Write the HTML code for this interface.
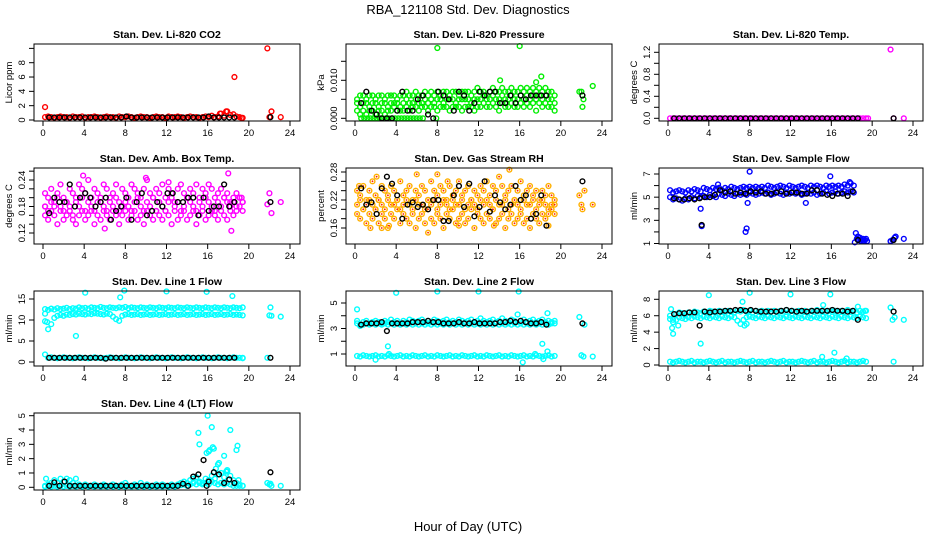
<!DOCTYPE html>
<html><head><meta charset="utf-8"><style>
html,body{margin:0;padding:0;background:#fff;}
svg{display:block;font-family:"Liberation Sans",sans-serif;}
</style></head><body>
<svg id="chart" width="936" height="540" viewBox="0 0 936 540">
<text x="468" y="14" text-anchor="middle" font-size="13">RBA_121108  Std. Dev. Diagnostics</text>
<text x="468" y="531" text-anchor="middle" font-size="13">Hour of Day (UTC)</text>
</svg>
<script>
const hourTicks = [0,4,8,12,16,20,24];
const blackHours = [0.6,1.1,1.6,2.1,2.6,3.1,3.6,4.1,4.6,5.1,5.6,6.1,6.6,7.1,7.6,8.1,8.6,9.1,9.6,10.1,10.6,11.1,11.6,12.1,12.6,13.1,13.6,14.1,14.6,15.1,15.6,16.1,16.6,17.1,17.6,18.1,18.6];
const hourGrid = [];
for (let i = 0; i < 65; i++) hourGrid.push(Math.round((0.2 + 0.3 * i) * 10) / 10);

// Panel 1 CO2
const co2Red = [0.4,0.5,0.4,0.3,0.4,0.5,0.4,0.4,0.3,0.5,0.4,0.4,0.5,0.3,0.4,0.4,0.5,0.4,0.3,0.4,0.5,0.4,0.4,0.3,0.5,0.4,0.4,0.5,0.4,0.3,0.4,0.5,0.4,0.4,0.3,0.4,0.5,0.4,0.4,0.3,0.5,0.4,0.4,0.5,0.4,0.3,0.4,0.5,0.4,0.4,0.3,0.4,0.5,0.4,0.6,0.4,0.5,0.9,0.6,1.2,0.7,0.8,0.5,0.4,0.3];
const co2ExtraX = [0.2,18.6,21.8,22.2,23.1,22.0,17.8,17.2,19.3];
const co2ExtraY = [1.8,6.0,10.0,1.2,0.4,0.4,1.2,0.9,0.3];
const co2Black = [0.35,0.35,0.35,0.35,0.35,0.35,0.35,0.35,0.35,0.35,0.35,0.35,0.35,0.35,0.35,0.5,0.35,0.35,0.35,0.35,0.35,0.35,0.35,0.35,0.35,0.35,0.35,0.35,0.35,0.35,0.35,0.5,0.35,0.35,0.35,0.35,0.35];
// Panel 2 pressure
const pUpper = [0.005,0.006,0.006,0.005,0.006,0.006,0.005,0.006,0.006,0.005,0.006,0.006,0.006,0.005,0.006,0.006,0.007,0.006,0.006,0.007,0.006,0.006,0.007,0.006,0.007,0.006,0.007,0.006,0.007,0.007,0.006,0.007,0.007,0.006,0.007,0.007,0.007,0.006,0.007,0.008,0.007,0.007,0.006,0.007,0.008,0.007,0.007,0.008,0.007,0.007,0.008,0.007,0.007,0.008,0.007,0.008,0.007,0.008,0.007,0.008,0.007,0.008,0.007,0.007,0.006];
const pMid = [0.004,0.003,0.004,0.004,0.003,0.004,0.004,0.003,0.004,0.004,0.003,0.004,0.004,0.004,0.003,0.004,0.005,0.004,0.004,0.005,0.004,0.004,0.005,0.004,0.005,0.004,0.005,0.005,0.004,0.005,0.005,0.005,0.004,0.005,0.005,0.005,0.005,0.004,0.005,0.005,0.005,0.006,0.005,0.005,0.006,0.005,0.005,0.006,0.005,0.005,0.006,0.005,0.005,0.006,0.005,0.006,0.005,0.006,0.005,0.006,0.005,0.006,0.005,0.005,0.004];
const pLow = [0.002,0.001,0.002,0.001,0.002,0.002,0.001,0.002,0.002,0.001,0.002,0.002,0.003,0.002,0.002,0.002,0.003,0.002,0.003,0.003,0.002,0.003,0.003,0.002,0.003,0.003,0.002,0.003,0.003,0.003,0.002,0.003,0.003,0.003,0.002,0.003,0.003,0.003,0.002,0.003,0.003,0.004,0.003,0.003,0.004,0.003,0.002,0.004,0.003,0.003,0.004,0.003,0.003,0.004,0.003,0.004,0.003,0.004,0.002,0.004,0.003,0.004,0.003,0.003,0.002];
const pZeroX = [0.6,0.9,1.2,1.5,1.8,2.1,2.4,2.7,3.0,3.3,3.6,3.9,4.2,4.5,4.8,5.1,5.4,5.7,6.0,6.3,6.6];
const pZeroY = [0,0,0,0,0,0,0,0,0,0,0,0,0,0,0,0,0,0,0,0,0];
const pExtraX = [8.0,16.0,23.1,21.8,22.0,22.2,22.1,14.1,18.1,17.6,7.9];
const pExtraY = [0.0185,0.019,0.0085,0.007,0.007,0.005,0.003,0.010,0.011,0.0095,0.0];
const pBlack = [0.004,0.007,0.002,0.001,0.000,0.000,0.000,0.002,0.007,0.002,0.002,0.005,0.006,0.001,0.000,0.007,0.006,0.005,0.002,0.007,0.006,0.002,0.004,0.007,0.006,0.007,0.007,0.004,0.004,0.006,0.004,0.006,0.005,0.006,0.006,0.006,0.006];
// Panel 3 temp
const tMag = [0,0,0,0,0,0,0,0,0,0,0,0,0,0,0,0,0,0,0,0,0,0,0,0,0,0,0,0,0,0,0,0,0,0,0,0,0,0,0,0,0,0,0,0,0,0,0,0,0,0,0,0,0,0,0,0,0,0,0,0,0,0,0,0,0];
const tExtraX = [21.8,23.1,22.1,19.6];
const tExtraY = [1.25,0,0,0];
const tBlack = [0,0,0,0,0,0,0,0,0,0,0,0,0,0,0,0,0,0,0,0,0,0,0,0,0,0,0,0,0,0,0,0,0,0,0,0,0];
// Panel 4 amb box temp
const aA = [0.21,0.20,0.22,0.19,0.21,0.23,0.20,0.19,0.22,0.21,0.20,0.23,0.22,0.21,0.24,0.20,0.22,0.21,0.19,0.23,0.22,0.20,0.21,0.23,0.19,0.22,0.21,0.20,0.23,0.22,0.21,0.20,0.22,0.24,0.21,0.20,0.22,0.21,0.23,0.20,0.22,0.21,0.19,0.22,0.23,0.21,0.20,0.22,0.21,0.23,0.20,0.22,0.21,0.23,0.22,0.20,0.21,0.22,0.20,0.21,0.19,0.20,0.21,0.20,0.19];
const aB = [0.18,0.17,0.19,0.18,0.20,0.18,0.17,0.19,0.18,0.16,0.19,0.18,0.20,0.17,0.19,0.18,0.17,0.19,0.20,0.18,0.17,0.19,0.18,0.20,0.17,0.18,0.19,0.18,0.17,0.19,0.20,0.18,0.17,0.19,0.18,0.20,0.17,0.19,0.18,0.17,0.19,0.20,0.18,0.19,0.17,0.18,0.20,0.19,0.18,0.17,0.19,0.18,0.20,0.19,0.18,0.17,0.19,0.18,0.20,0.19,0.18,0.19,0.18,0.20,0.19];
const aC = [0.16,0.15,0.17,0.16,0.14,0.17,0.15,0.16,0.17,0.15,0.14,0.16,0.17,0.15,0.16,0.17,0.14,0.16,0.15,0.17,0.16,0.15,0.17,0.16,0.14,0.16,0.17,0.15,0.16,0.17,0.15,0.16,0.14,0.17,0.16,0.15,0.17,0.16,0.15,0.17,0.16,0.14,0.17,0.15,0.16,0.17,0.15,0.16,0.17,0.14,0.16,0.17,0.15,0.16,0.17,0.16,0.15,0.17,0.16,0.15,0.17,0.16,0.17,0.18,0.17];
const aExtraX = [0.2,3.9,22.0,22.2,23.1,21.8,18.3,18.0,6.0,19.3,10.0,12.2];
const aExtraY = [0.18,0.25,0.21,0.165,0.19,0.185,0.125,0.255,0.13,0.2,0.245,0.235];
const aBlack = [0.165,0.20,0.19,0.19,0.23,0.18,0.20,0.21,0.20,0.18,0.19,0.20,0.15,0.17,0.18,0.20,0.15,0.19,0.21,0.16,0.17,0.19,0.18,0.21,0.21,0.19,0.19,0.20,0.20,0.16,0.20,0.17,0.18,0.18,0.23,0.18,0.19];
// Panel 5 gas RH
const gA = [0.24,0.23,0.25,0.22,0.24,0.26,0.23,0.22,0.25,0.24,0.23,0.25,0.24,0.22,0.26,0.23,0.24,0.25,0.22,0.24,0.23,0.25,0.24,0.22,0.26,0.24,0.23,0.25,0.24,0.22,0.25,0.23,0.24,0.26,0.23,0.24,0.25,0.22,0.24,0.23,0.25,0.24,0.26,0.23,0.25,0.24,0.27,0.25,0.23,0.24,0.25,0.22,0.24,0.26,0.23,0.24,0.25,0.23,0.24,0.22,0.24,0.23,0.25,0.23,0.22];
const gB = [0.21,0.22,0.20,0.21,0.22,0.21,0.20,0.22,0.21,0.20,0.22,0.21,0.21,0.22,0.20,0.21,0.22,0.21,0.20,0.22,0.21,0.21,0.20,0.22,0.21,0.22,0.20,0.21,0.22,0.21,0.20,0.22,0.21,0.21,0.22,0.20,0.21,0.22,0.21,0.20,0.22,0.21,0.22,0.21,0.20,0.22,0.21,0.21,0.22,0.20,0.21,0.22,0.21,0.20,0.22,0.21,0.21,0.22,0.20,0.21,0.22,0.21,0.20,0.21,0.21];
const gC = [0.19,0.18,0.20,0.17,0.19,0.18,0.20,0.17,0.19,0.18,0.16,0.19,0.18,0.20,0.17,0.19,0.18,0.17,0.19,0.16,0.18,0.19,0.17,0.20,0.18,0.17,0.19,0.18,0.16,0.19,0.18,0.20,0.17,0.18,0.19,0.17,0.18,0.20,0.16,0.19,0.18,0.17,0.19,0.18,0.20,0.17,0.18,0.19,0.16,0.18,0.19,0.17,0.18,0.19,0.17,0.18,0.16,0.19,0.18,0.17,0.19,0.18,0.19,0.20,0.19];
const gExtraX = [1.5,2.1,6.0,8.0,9.0,15.0,7.1,21.8,22.0,22.1,22.3,23.1,18.8,0.4,3.3,10.1,13.5,2.6];
const gExtraY = [0.16,0.27,0.275,0.275,0.26,0.285,0.15,0.23,0.21,0.20,0.24,0.21,0.165,0.25,0.165,0.165,0.165,0.16];
const gBlack = [0.245,0.21,0.215,0.19,0.245,0.27,0.255,0.23,0.18,0.21,0.215,0.205,0.21,0.20,0.22,0.22,0.175,0.175,0.23,0.25,0.205,0.255,0.185,0.205,0.26,0.195,0.23,0.215,0.20,0.21,0.25,0.22,0.23,0.18,0.19,0.23,0.165];
// Panel 6 sample flow
const fA = [5.6,5.4,5.5,5.6,5.5,5.4,5.6,5.5,5.7,5.6,5.5,5.8,5.7,5.6,5.8,5.7,5.8,5.6,5.8,5.7,5.9,5.8,5.7,5.8,5.9,5.8,5.9,5.8,5.9,5.8,5.9,5.8,6.0,5.9,5.8,5.9,6.0,5.9,5.8,6.0,5.9,5.8,5.9,6.0,5.9,5.8,6.0,5.9,6.0,5.9,5.8,6.0,5.9,6.0,5.9,6.0,5.9,6.1,6.0,6.2,6.0];
const fB = [5.0,4.8,4.9,4.8,4.7,4.9,4.8,5.0,4.9,5.1,5.0,5.1,5.0,5.2,5.1,5.0,5.3,5.2,5.1,5.3,5.2,5.1,5.3,5.2,5.3,5.2,5.4,5.3,5.2,5.3,5.4,5.3,5.4,5.2,5.3,5.4,5.3,5.2,5.4,5.3,5.4,5.3,5.4,5.2,5.3,5.4,5.3,5.4,5.2,5.3,5.4,5.5,5.3,5.4,5.5,5.3,5.4,5.5,5.4,5.5,5.4];
const fExtraX = [18.4,18.5,18.7,18.9,19.1,19.3,19.5,18.6,18.8,19.0,19.2,19.4,21.8,22.0,22.2,22.3,23.1,18.3,3.3,3.2,7.6,7.7,8.0,15.9,7.8,4.9,13.5,17.8];
const fExtraY = [1.9,1.4,1.3,1.2,1.4,1.3,1.2,1.6,1.5,1.3,1.2,1.4,1.2,1.3,1.5,1.6,1.4,1.1,2.5,4.0,2.0,2.3,7.2,6.8,4.5,6.1,4.5,6.3];
const fBlack = [4.9,4.8,4.8,4.9,4.8,4.9,5.0,5.0,5.2,5.6,5.4,5.5,5.3,5.4,5.3,5.5,5.4,5.5,5.3,5.3,5.4,5.5,5.3,5.4,5.4,5.3,5.3,5.6,5.6,5.3,5.2,5.1,5.3,5.3,5.1,5.5,1.3];
// Panel 7 line 1
const l1A = [12.6,12.4,12.7,12.5,12.8,12.6,12.7,12.9,12.6,12.8,12.7,13.0,12.8,12.9,12.7,13.0,12.9,12.8,13.1,12.9,12.8,13.0,12.9,12.8,13.0,12.9,13.1,12.8,13.0,12.9,12.8,13.0,12.9,12.8,13.0,12.9,12.8,13.0,12.9,12.8,13.0,12.9,12.8,13.0,12.9,12.8,13.0,12.9,12.8,13.0,12.9,12.8,13.0,12.9,12.8,13.0,12.9,12.8,13.0,12.9,12.8,13.0,12.9,12.8,13.0];
const l1B = [9.7,7.8,9.0,10.5,11.0,11.2,11.0,11.3,11.2,11.4,11.3,11.5,11.4,11.3,11.5,11.4,11.6,11.5,11.4,11.3,11.5,11.4,10.8,10.2,9.8,11.0,11.3,11.4,11.2,11.3,11.4,11.2,11.3,11.4,11.2,11.3,11.4,11.2,11.3,11.4,11.2,11.3,11.4,11.2,11.3,11.4,11.2,11.3,11.4,11.2,11.3,11.4,11.2,11.3,11.4,11.2,11.3,11.4,11.2,11.3,11.4,11.2,11.3,11.2,11.1];
const l1Low = [1.8,1.0,1.1,1.0,0.9,1.0,1.1,1.0,1.0,0.9,1.0,1.1,1.0,1.0,0.9,1.0,1.1,1.0,1.0,0.9,1.0,1.1,1.0,1.0,0.9,1.0,1.1,1.0,1.0,0.9,1.0,1.1,1.0,1.0,0.9,1.0,1.1,1.0,1.0,0.9,1.0,1.1,1.0,1.0,0.9,1.0,1.1,1.0,1.0,0.9,1.0,1.1,1.0,1.0,0.9,1.0,1.1,1.0,1.0,0.9,1.0,1.1,1.0,1.0,0.9];
const l1ExtraX = [0.2,3.2,4.1,7.9,12.0,15.9,18.4,7.5,22.1,22.0,22.2,23.1,21.8,19.4,0.4];
const l1ExtraY = [11.5,6.2,16.5,17.0,16.8,16.7,15.7,15.4,13.0,11.1,11.0,10.8,1.0,1.0,9.5];
const l1Black = [1.0,1.0,1.0,1.0,1.0,1.0,1.0,1.0,1.0,1.0,1.0,0.8,1.0,1.0,1.0,1.0,1.0,1.0,1.0,1.0,1.0,1.0,1.0,1.0,1.0,1.0,1.0,1.0,1.0,1.0,1.0,1.0,1.0,1.0,1.0,1.0,1.0];
// Panel 8 line 2
const l2A = [3.6,3.3,3.5,3.6,3.4,3.5,3.6,3.5,3.4,3.6,3.5,3.7,3.5,3.6,3.4,3.6,3.5,3.7,3.6,3.5,3.6,3.7,3.5,3.6,3.5,3.7,3.6,3.5,3.6,3.7,3.5,3.6,3.5,3.7,3.6,3.5,3.6,3.7,3.5,3.6,3.8,3.6,3.5,3.6,3.7,3.5,3.6,3.8,3.6,3.5,3.7,3.6,4.1,3.6,3.7,3.5,3.6,3.7,3.5,3.6,3.7,3.5,3.6,3.5,3.6];
const l2B = [3.4,3.2,3.3,3.4,3.3,3.4,3.3,3.4,3.3,3.4,3.3,3.4,3.3,3.4,3.3,3.4,3.3,3.4,3.3,3.4,3.3,3.4,3.3,3.4,3.3,3.4,3.3,3.4,3.3,3.4,3.3,3.4,3.3,3.4,3.3,3.4,3.3,3.4,3.3,3.4,3.3,3.4,3.3,3.4,3.3,3.4,3.3,3.4,3.3,3.4,3.3,3.4,3.3,3.4,3.3,3.4,3.3,3.4,3.3,3.4,3.3,3.4,3.3,3.4,3.4];
const l2Low = [0.85,0.8,0.9,0.85,0.8,0.85,0.9,0.8,0.85,0.8,0.9,0.85,0.8,0.85,0.9,0.8,0.85,0.8,0.9,0.85,0.8,0.85,0.9,0.8,0.85,0.8,0.9,0.85,0.8,0.85,0.9,0.8,0.85,0.8,0.9,0.85,0.8,0.85,0.9,0.8,0.85,0.8,0.9,0.85,0.8,0.85,0.9,0.8,0.85,0.8,0.9,0.85,0.8,0.85,0.9,0.8,0.85,0.8,0.9,0.85,0.8,0.85,0.9,0.8,0.85];
const l2ExtraX = [0.2,4.0,8.0,12.0,15.9,21.8,22.3,23.1,22.0,22.2,3.2,3.3,2.0,16.3,18.2,18.7,18.7,18.3,17.5];
const l2ExtraY = [4.5,5.8,5.9,5.9,5.9,3.9,3.3,0.8,0.9,0.8,1.6,1.0,0.55,0.35,1.8,1.2,4.2,0.6,1.0];
const l2Black = [3.3,3.4,3.4,3.4,3.5,2.8,3.4,3.4,3.4,3.4,3.5,3.5,3.5,3.6,3.5,3.5,3.4,3.4,3.4,3.5,3.4,3.4,3.5,3.4,3.4,3.4,3.4,3.5,3.5,3.6,3.5,3.6,3.5,3.4,3.4,3.5,3.3];
// Panel 9 line 3
const l3A = [6.0,5.5,6.2,6.4,6.3,6.1,6.4,6.3,6.5,6.4,6.3,6.5,6.4,6.6,6.5,6.4,6.6,6.5,6.4,6.6,6.5,6.4,6.6,6.5,6.7,6.5,6.6,6.4,6.6,6.5,6.6,6.4,6.6,6.5,6.6,6.4,6.6,6.5,6.7,6.5,6.6,6.4,6.6,6.5,6.6,6.4,6.6,6.5,6.7,6.5,6.6,6.4,6.6,6.5,6.6,6.4,6.6,6.5,6.7,6.5,6.6,6.4,6.6,6.5,6.6];
const l3B = [5.6,5.2,5.5,5.8,5.7,5.6,5.8,5.7,5.9,5.8,5.7,5.9,5.8,5.7,5.9,5.8,5.7,5.9,5.8,5.7,5.9,5.8,5.4,5.0,5.5,5.8,5.9,5.8,5.7,5.9,5.8,5.7,5.9,5.8,5.7,5.9,5.8,5.7,5.9,5.8,5.7,5.9,5.8,5.7,5.9,5.8,5.7,5.9,5.8,5.7,5.9,5.8,5.7,5.9,5.8,5.7,5.9,5.8,5.7,5.9,5.8,5.7,5.9,5.8,5.7];
const l3Low = [0.4,0.3,0.4,0.5,0.4,0.3,0.4,0.5,0.3,0.4,0.4,0.3,0.4,0.5,0.4,0.3,0.4,0.5,0.3,0.4,0.4,0.3,0.4,0.5,0.4,0.3,0.4,0.5,0.3,0.4,0.4,0.3,0.4,0.5,0.4,0.3,0.4,0.5,0.3,0.4,0.4,0.3,0.4,0.5,0.4,0.3,0.4,0.5,0.3,0.4,0.4,0.3,0.4,0.5,0.4,0.3,0.4,0.5,0.3,0.4,0.4,0.3,0.4,0.5,0.4];
const l3ExtraX = [0.3,0.4,0.5,1.0,3.2,4.0,8.0,12.0,15.9,7.3,7.5,15.2,21.8,22.0,22.2,23.1,22.1,16.3,15.1,17.5,18.6,19.3,7.7];
const l3ExtraY = [6.8,4.5,3.8,4.8,2.6,8.5,8.8,8.6,8.6,7.7,4.8,7.3,7.0,5.5,5.8,5.5,0.4,1.5,1.0,0.8,7.1,6.6,5.0];
const l3Black = [6.2,6.3,6.3,6.4,6.4,4.8,6.5,6.4,6.5,6.5,6.6,6.6,6.7,6.7,6.6,6.7,6.6,6.5,6.5,6.5,6.5,6.6,6.7,6.6,6.5,6.6,6.5,6.6,6.6,6.6,6.6,6.7,6.6,6.6,6.5,6.6,5.5];
// Panel 10 line 4
const l4A = [0.1,0.2,0.3,0.5,0.3,0.6,0.4,0.6,0.5,0.3,0.6,0.2,0.1,0.2,0.1,0.1,0.2,0.1,0.1,0.2,0.1,0.1,0.2,0.1,0.1,0.2,0.3,0.1,0.1,0.2,0.1,0.3,0.1,0.2,0.1,0.1,0.2,0.1,0.2,0.1,0.1,0.2,0.1,0.2,0.3,0.4,0.3,0.5,0.6,0.7,0.4,0.3,0.6,0.5,0.8,0.6,0.9,1.0,0.7,1.1,0.8,0.5,0.3,0.2,0.1];
const l4B = [0.05,0.1,0.05,0.1,0.05,0.1,0.05,0.1,0.05,0.1,0.05,0.1,0.05,0.1,0.05,0.1,0.05,0.1,0.05,0.1,0.05,0.1,0.05,0.1,0.05,0.1,0.05,0.1,0.05,0.1,0.05,0.1,0.05,0.1,0.05,0.1,0.05,0.1,0.05,0.1,0.05,0.1,0.05,0.1,0.15,0.2,0.1,0.2,0.3,0.2,0.3,0.2,0.3,0.2,0.4,0.3,0.2,0.3,0.2,0.3,0.2,0.1,0.1,0.1,0.1];
const l4ExtraX = [0.3,15.1,15.2,15.9,16.0,16.1,16.2,16.4,16.5,16.6,17.0,17.1,17.6,17.8,18.2,18.8,18.9,19.0,17.9,16.8,21.8,22.0,22.2,23.1,22.1];
const l4ExtraY = [0.6,3.8,3.0,2.4,5.0,2.5,2.6,4.2,2.8,2.7,1.6,1.7,2.2,1.1,4.0,2.6,2.9,0.5,1.2,1.3,0.3,0.2,0.1,0.1,0.25];
const l4Black = [0.1,0.35,0.1,0.4,0.1,0.1,0.1,0.1,0.1,0.1,0.1,0.1,0.1,0.1,0.1,0.1,0.1,0.1,0.1,0.1,0.1,0.1,0.1,0.1,0.1,0.1,0.25,0.1,0.75,0.9,1.9,0.4,1.05,0.9,0.3,0.55,0.3];

const NS = 'http://www.w3.org/2000/svg';
const svg = document.getElementById('chart');
const colL = [34,346,659], colR = [300,612,923], colX0 = [43,355,668], colX24 = [290,602,913];
const rowT = [44,168,291,413], rowB = [121,244,366,490];

function mk(tag, attrs, parent) {
  const el = document.createElementNS(NS, tag);
  for (const k in attrs) el.setAttribute(k, attrs[k]);
  (parent || svg).appendChild(el);
  return el;
}

const panels = [
 {key:'co2', title:'Stan. Dev. Li-820 CO2', ylab:'Licor ppm', c:0, r:0, ref:[0,120,8,62.7], ticks:[0,2,4,6,8,10], labels:[0,2,4,6,8], fmt:v=>String(v), col:'#ff0000',
  series:[[hourGrid,co2Red],[co2ExtraX,co2ExtraY]], black:[co2Black,[22.1],[0.4]]},
 {key:'pressure', title:'Stan. Dev. Li-820 Pressure', ylab:'kPa', c:1, r:0, ref:[0,118.3,0.01,80.3], ticks:[0,0.005,0.01,0.015], labels:[0,0.01], fmt:v=>v.toFixed(3), col:'#00ee00',
  series:[[hourGrid,pUpper],[hourGrid,pMid],[hourGrid,pLow],[pZeroX,pZeroY],[pExtraX,pExtraY]], black:[pBlack,[22.1],[0.006]]},
 {key:'temp', title:'Stan. Dev. Li-820 Temp.', ylab:'degrees C', c:2, r:0, ref:[0,118.3,1.2,52.3], ticks:[0,0.2,0.4,0.6,0.8,1.0,1.2], labels:[0,0.4,0.8,1.2], fmt:v=>v.toFixed(1), col:'#ff00ff',
  series:[[hourGrid,tMag],[tExtraX,tExtraY]], black:[tBlack,[22.1],[0]]},
 {key:'ambtemp', title:'Stan. Dev. Amb. Box Temp.', ylab:'degrees C', c:0, r:1, ref:[0.12,233,0.24,180], ticks:[0.12,0.14,0.16,0.18,0.2,0.22,0.24,0.26], labels:[0.12,0.18,0.24], fmt:v=>v.toFixed(2), col:'#ff00ff',
  series:[[hourGrid,aA],[hourGrid,aB],[hourGrid,aC],[aExtraX,aExtraY]], black:[aBlack,[22.1],[0.19]]},
 {key:'rh', title:'Stan. Dev. Gas Stream RH', ylab:'percent', c:1, r:1, ref:[0.16,228,0.28,172], ticks:[0.16,0.18,0.2,0.22,0.24,0.26,0.28], labels:[0.16,0.22,0.28], fmt:v=>v.toFixed(2), col:'#ffb000', dot:'#ff2000',
  series:[[hourGrid,gA],[hourGrid,gB],[hourGrid,gC],[gExtraX,gExtraY]], black:[gBlack,[22.1],[0.26]]},
 {key:'sampleflow', title:'Stan. Dev. Sample Flow', ylab:'ml/min', c:2, r:1, ref:[1,243.5,7,174], ticks:[1,2,3,4,5,6,7], labels:[1,3,5,7], fmt:v=>String(v), col:'#0000ff',
  series:[[hourGrid,fA],[hourGrid,fB],[fExtraX,fExtraY]], black:[fBlack,[3.3,22.1],[2.6,1.3]]},
 {key:'line1', title:'Stan. Dev. Line 1 Flow', ylab:'ml/min', c:0, r:2, ref:[0,362,15,299], ticks:[0,5,10,15], labels:[0,5,10,15], fmt:v=>String(v), col:'#00ffff',
  series:[[hourGrid,l1A],[hourGrid,l1B],[hourGrid,l1Low],[l1ExtraX,l1ExtraY]], black:[l1Black,[22.1],[1.0]]},
 {key:'line2', title:'Stan. Dev. Line 2 Flow', ylab:'ml/min', c:1, r:2, ref:[1,354,5,303], ticks:[1,2,3,4,5], labels:[1,3,5], fmt:v=>String(v), col:'#00ffff',
  series:[[hourGrid,l2A],[hourGrid,l2B],[hourGrid,l2Low],[l2ExtraX,l2ExtraY]], black:[l2Black,[22.1],[3.4]]},
 {key:'line3', title:'Stan. Dev. Line 3 Flow', ylab:'ml/min', c:2, r:2, ref:[0,365,8,299.3], ticks:[0,2,4,6,8], labels:[0,2,4,6,8], fmt:v=>String(v), col:'#00ffff',
  series:[[hourGrid,l3A],[hourGrid,l3B],[hourGrid,l3Low],[l3ExtraX,l3ExtraY]], black:[l3Black,[22.1],[6.5]]},
 {key:'line4', title:'Stan. Dev. Line 4 (LT) Flow', ylab:'ml/min', c:0, r:3, ref:[0,487.3,5,415.7], ticks:[0,1,2,3,4,5], labels:[0,1,2,3,4,5], fmt:v=>String(v), col:'#00ffff',
  series:[[hourGrid,l4A],[hourGrid,l4B],[l4ExtraX,l4ExtraY]], black:[l4Black,[22.1,15.9],[1.05,0.1]]}
];

panels.forEach(p => {
  const L = colL[p.c], R = colR[p.c], T = rowT[p.r], B = rowB[p.r];
  const xs = h => colX0[p.c] + h * (colX24[p.c] - colX0[p.c]) / 24;
  const ys = v => p.ref[1] + (v - p.ref[0]) * (p.ref[3] - p.ref[1]) / (p.ref[2] - p.ref[0]);
  const g = mk('g', {});
  
  
  const t = mk('text', {x:(L+R)/2, y:T-6, 'text-anchor':'middle', 'font-size':'10.5', 'font-weight':'bold'}, g);
  t.textContent = p.title;
  
  
  // points
  const pts = mk('g', {fill:'none', 'stroke-width':'1.4'}, g);
  
  
  p.series.forEach(s => {
    const n = Math.min(s[0].length, s[1].length);
    for (let i = 0; i < n; i++) {
      const cx = xs(s[0][i]), cy = ys(s[1][i]);
      const c = mk('circle', {cx:cx, cy:cy, r:2.4, stroke:p.col}, pts);
      
      
      if (p.dot) {
        const d = mk('circle', {cx:cx, cy:cy, r:0.9, fill:p.dot, stroke:'none'}, pts);
        
        
      }
    }
  });
  const bl = p.black;
  const bx = blackHours.concat(bl[1]), by = bl[0].concat(bl[2]);
  const bn = Math.min(bx.length, by.length);
  for (let i = 0; i < bn; i++) {
    const c = mk('circle', {cx:xs(bx[i]), cy:ys(by[i]), r:2.4, stroke:'#000'}, pts);
    
    
  }
  // box
  const box = mk('rect', {x:L, y:T, width:R-L, height:B-T, fill:'none', stroke:'#000', 'stroke-width':'1'}, g);
  
  
  // x axis
  const xa = mk('g', {stroke:'#000'}, g);
  
  
  hourTicks.forEach(h => {
    const tk = mk('line', {x1:xs(h), x2:xs(h), y1:B, y2:B+5}, xa);
    
    
    const lb = mk('text', {x:xs(h), y:B+15, 'text-anchor':'middle', 'font-size':'9.5', stroke:'none'}, xa);
    lb.textContent = String(h);
    
    
  });
  // y axis
  const ya = mk('g', {stroke:'#000'}, g);
  
  
  p.ticks.forEach(v => {
    const tk = mk('line', {x1:L-5, x2:L, y1:ys(v), y2:ys(v)}, ya);
    
    
  });
  p.labels.forEach(v => {
    const yy = ys(v);
    const lb = mk('text', {x:L-9, y:yy, 'text-anchor':'middle', 'font-size':'9.5', stroke:'none', transform:'rotate(-90 '+(L-9)+' '+yy+')'}, ya);
    lb.textContent = p.fmt(v);
    
    
  });
  const yt = (T+B)/2;
  const ylab = mk('text', {x:L-22, y:yt, 'text-anchor':'middle', 'font-size':'9.5', transform:'rotate(-90 '+(L-22)+' '+yt+')'}, g);
  ylab.textContent = p.ylab;
  
  
});
</script>
</body></html>
